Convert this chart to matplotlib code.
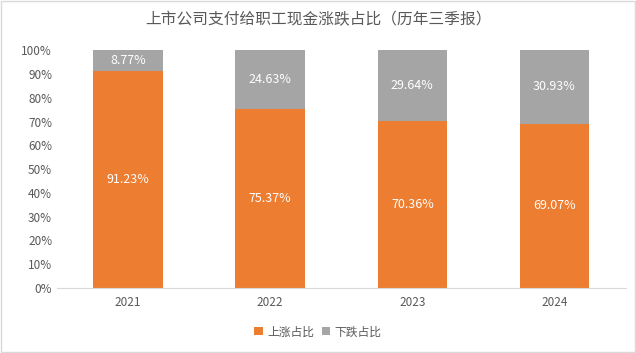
import matplotlib.pyplot as plt
import numpy as np
from matplotlib.patches import Rectangle

plt.rcParams['font.family'] = ['Noto Sans CJK SC', 'DejaVu Sans']

years = ['2021', '2022', '2023', '2024']
up_share = [91.23, 75.37, 70.36, 69.07]
down_share = [8.77, 24.63, 29.64, 30.93]

orange = '#ED7D31'
grey = '#A5A5A5'
text_c = '#595959'

fig = plt.figure(figsize=(6.36, 3.53), dpi=100)
ax = fig.add_axes([0.0896, 0.184, 0.894, 0.674])

x = np.arange(len(years))
b1 = ax.bar(x, up_share, width=0.49, color=orange, label='上涨占比')
b2 = ax.bar(x, down_share, width=0.49, bottom=up_share, color=grey, label='下跌占比')

for i in range(len(years)):
    ax.text(x[i], up_share[i] / 2, f'{up_share[i]:.2f}%', ha='center', va='center',
            color='white', fontsize=9)
    ax.text(x[i], up_share[i] + down_share[i] / 2, f'{down_share[i]:.2f}%', ha='center',
            va='center', color='white', fontsize=9)

ax.set_xlim(-0.5, len(years) - 0.5)
ax.set_ylim(0, 100)
ax.set_yticks(np.arange(0, 101, 10))
ax.set_yticklabels([f'{v}%' for v in range(0, 101, 10)])
ax.set_xticks(x)
ax.set_xticklabels(years)
ax.tick_params(colors=text_c, labelsize=8.5, length=0)
ax.tick_params(axis='x', pad=6)
for s in ['top', 'right', 'left']:
    ax.spines[s].set_visible(False)
ax.spines['bottom'].set_color('#D9D9D9')

fig.text(0.5, 0.945, '上市公司支付给职工现金涨跌占比（历年三季报）', ha='center', va='center',
         color=text_c, fontsize=11.3)

fig.legend(handles=[b1, b2], loc='center', bbox_to_anchor=(0.5, 0.06), ncol=2, frameon=False,
           fontsize=8.5, handlelength=0.7, handleheight=0.7, handletextpad=0.4,
           columnspacing=0.6, labelcolor=text_c)

fig.patches.append(Rectangle((0.002, 0.003), 0.996, 0.994, transform=fig.transFigure,
                             fill=False, edgecolor='#D9D9D9', linewidth=1))

fig.savefig('out.png', dpi=100)
